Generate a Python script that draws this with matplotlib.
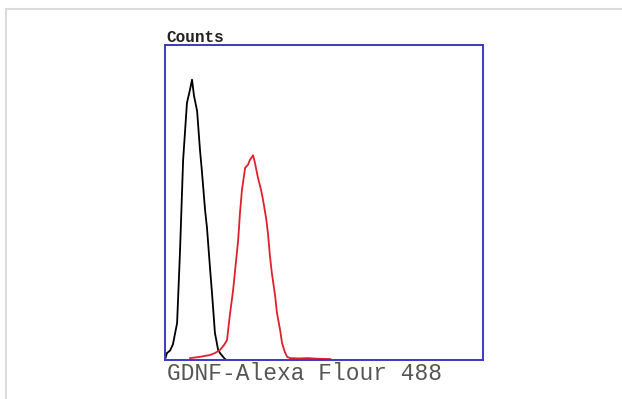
import matplotlib.pyplot as plt
from matplotlib.lines import Line2D

# ----------------------------------------------
# histogram traces
# (x: fluorescence channel, 0-100; y: counts, 0-100)
# ----------------------------------------------
ctrl_x = [0.0, 0.6, 1.6, 2.5, 3.8, 4.7, 5.7, 6.9, 7.9, 8.5, 9.1, 10.1, 11.0,
          11.6, 12.6, 13.2, 14.2, 14.8, 15.7, 16.7, 17.3, 18.6, 19.2, 20.0]
ctrl_y = [0.0, 2.2, 3.0, 5.0, 11.7, 34.0, 63.5, 81.6, 86.0, 89.0, 84.0, 79.0,
          66.7, 60.0, 47.6, 42.0, 28.6, 21.0, 8.6, 3.2, 2.2, 0.6, 0.0, 0.0]

gdnf_x = [7.9, 11.0, 14.2, 15.7, 17.3, 18.6, 19.5, 20.4, 21.4, 22.3, 23.0,
          23.6, 24.2, 25.2, 26.1, 26.7, 27.7, 28.3, 29.2, 30.2, 30.8, 31.8,
          32.4, 33.0, 33.6, 34.6, 35.2, 36.2, 36.8, 37.7, 38.4, 39.3, 42.0,
          45.0, 48.0, 52.0]
gdnf_y = [0.6, 1.0, 1.6, 2.2, 3.2, 4.8, 6.3, 14.3, 22.0, 31.0, 38.0, 47.0,
          54.0, 61.0, 62.0, 63.5, 65.0, 62.5, 58.0, 54.0, 51.0, 45.0, 40.0,
          33.0, 27.6, 20.6, 15.0, 9.5, 5.4, 2.5, 1.0, 0.6, 0.5, 0.6, 0.4, 0.3]

xlabel = 'GDNF-Alexa Flour 488'
ylabel = 'Counts'

fig = plt.figure(figsize=(6.22, 3.99), dpi=100)
ax = fig.add_axes([165/622, 39/399, 318/622, 315/399])

ax.plot(ctrl_x, ctrl_y, color='black', lw=1.3)
ax.plot(gdnf_x, gdnf_y, color='#e0202a', lw=1.3)

ax.set_xlim(0, 100)
ax.set_ylim(0, 100)
ax.set_xticks([])
ax.set_yticks([])
for s in ax.spines.values():
    s.set_color('#3a3ac4')
    s.set_linewidth(1.4)

fig.text(166/622, 1 - 42/399, ylabel, family='Liberation Mono',
         fontsize=11.5, color='#222222', fontweight='bold',
         ha='left', va='baseline')
fig.text(167/622, 1 - 374/399, xlabel, family='Liberation Mono',
         fontsize=16.5, color='#555555', ha='left', va='center')

# light grey frame round the image
fig.add_artist(Line2D([6/622, 1], [1 - 9/399, 1 - 9/399], color='#dcdcdc',
                      lw=1.5, transform=fig.transFigure))
fig.add_artist(Line2D([6/622, 6/622], [0, 1 - 9/399], color='#dcdcdc',
                      lw=1.5, transform=fig.transFigure))

fig.savefig('out.png', dpi=100)
